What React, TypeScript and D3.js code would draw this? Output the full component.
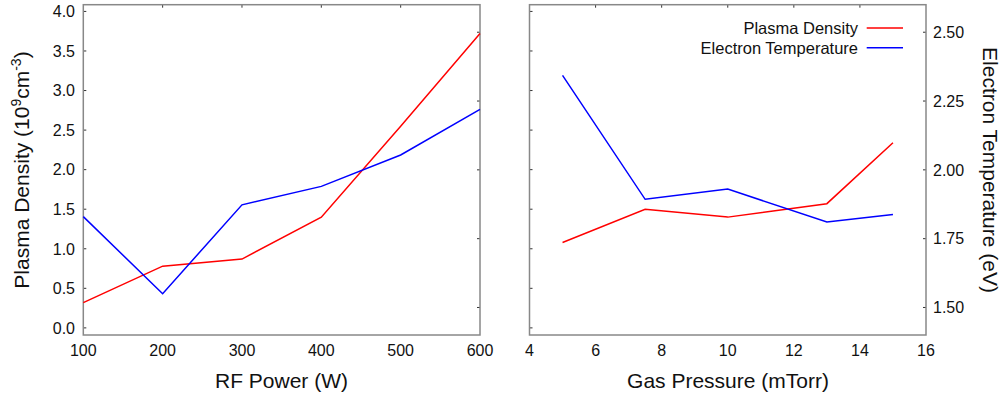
import React from "react";
import * as d3 from "d3";

const powerW = [100, 200, 300, 400, 500, 600];
const powerDensity = [0.32, 0.78, 0.87, 1.4, 2.55, 3.72];
const powerTemp = [1.83, 1.55, 1.873, 1.94, 2.054, 2.22];

const pressure = [5, 7.5, 10, 13, 15];
const pressureDensity = [1.08, 1.5, 1.4, 1.57, 2.34];
const pressureTemp = [2.343, 1.893, 1.93, 1.811, 1.838];

const densityTicks = [0, 0.5, 1, 1.5, 2, 2.5, 3, 3.5, 4];
const tempTicks = [1.5, 1.75, 2.0, 2.25, 2.5];
const powerTicks = [100, 200, 300, 400, 500, 600];
const pressureTicks = [4, 6, 8, 10, 12, 14, 16];

const legendItems = [
  { label: "Plasma Density", color: "#ff0000" },
  { label: "Electron Temperature", color: "#0000ff" },
];

const FONT = "'Liberation Sans', Arial, sans-serif";
const TOP = 4.7;
const BOTTOM = 335;
const FRAME = "#888888";
const TICK = 3;

export default function App() {
  const yDen = d3.scaleLinear().domain([-0.09, 4.085]).range([BOTTOM, TOP]);
  const yTemp = d3.scaleLinear().domain([1.4, 2.6]).range([BOTTOM, TOP]);
  const xPow = d3.scaleLinear().domain([100, 600]).range([83.3, 480]);
  const xPres = d3.scaleLinear().domain([4, 16]).range([529.5, 926]);

  const lineOf = (xs: number[], ys: number[], xs_: any, ys_: any) =>
    d3.line<number>().x((_, i) => xs_(xs[i])).y((d) => ys_(d))(ys) || "";

  const panel = (x: any, xTicks: number[], showTop: number[]) => {
    const [x0, x1] = x.range();
    return (
      <g>
        {/* left axis density ticks */}
        {densityTicks.map((t) => (
          <line key={"dl" + t} x1={x0} x2={x0 + TICK} y1={yDen(t)} y2={yDen(t)} stroke="#333" strokeWidth={1} />
        ))}
        {/* right axis temp ticks */}
        {tempTicks.map((t) => (
          <line key={"tr" + t} x1={x1 - TICK} x2={x1} y1={yTemp(t)} y2={yTemp(t)} stroke="#333" strokeWidth={1} />
        ))}
        {/* top ticks */}
        {showTop.map((t) => (
          <line key={"tt" + t} x1={x(t)} x2={x(t)} y1={TOP} y2={TOP + TICK} stroke="#333" strokeWidth={1} />
        ))}
        {/* x tick labels */}
        {xTicks.map((t) => (
          <text key={"xl" + t} x={x(t)} y={356} textAnchor="middle" fontSize={16} fontFamily={FONT} fill="#111">
            {t}
          </text>
        ))}
        <rect x={x0} y={TOP} width={x1 - x0} height={BOTTOM - TOP} fill="none" stroke={FRAME} strokeWidth={1.5} />
      </g>
    );
  };

  return (
    <svg width={1006} height={398} style={{ position: "absolute", left: 0, top: 0, background: "#fff" }}>
      {panel(xPow, powerTicks, [200, 300, 400, 500])}
      {panel(xPres, pressureTicks, [6, 8, 10, 12, 14])}

      {/* left y tick labels */}
      {densityTicks.map((t) => (
        <text key={"yl" + t} x={75} y={yDen(t)} dy="0.36em" textAnchor="end" fontSize={16} fontFamily={FONT} fill="#111">
          {t.toFixed(1)}
        </text>
      ))}
      {/* right y tick labels */}
      {tempTicks.map((t) => (
        <text key={"yr" + t} x={933} y={yTemp(t)} dy="0.36em" textAnchor="start" fontSize={16} fontFamily={FONT} fill="#111">
          {t.toFixed(2)}
        </text>
      ))}

      {/* lines */}
      <path d={lineOf(powerW, powerDensity, xPow, yDen)} fill="none" stroke="#ff0000" strokeWidth={1.5} />
      <path d={lineOf(powerW, powerTemp, xPow, yTemp)} fill="none" stroke="#0000ff" strokeWidth={1.5} />
      <path d={lineOf(pressure, pressureDensity, xPres, yDen)} fill="none" stroke="#ff0000" strokeWidth={1.5} />
      <path d={lineOf(pressure, pressureTemp, xPres, yTemp)} fill="none" stroke="#0000ff" strokeWidth={1.5} />

      {/* legend */}
      {legendItems.map((it, i) => (
        <g key={it.label}>
          <text x={858} y={28 + i * 19.7} dy="0.36em" textAnchor="end" fontSize={16.5} fontFamily={FONT} fill="#111">
            {it.label}
          </text>
          <line x1={866.7} x2={903} y1={28 + i * 19.7} y2={28 + i * 19.7} stroke={it.color} strokeWidth={1.5} />
        </g>
      ))}

      {/* axis titles */}
      <text x={281.5} y={388} textAnchor="middle" fontSize={21} fontFamily={FONT} fill="#111">
        RF Power (W)
      </text>
      <text x={728} y={388} textAnchor="middle" fontSize={21} fontFamily={FONT} fill="#111">
        Gas Pressure (mTorr)
      </text>
      <text transform="translate(29,170) rotate(-90)" textAnchor="middle" fontSize={21} fontFamily={FONT} fill="#111">
        Plasma Density (10
        <tspan fontSize={14} dy={-8}>9</tspan>
        <tspan dy={8}>cm</tspan>
        <tspan fontSize={14} dy={-8}>-3</tspan>
        <tspan dy={8}>)</tspan>
      </text>
      <text transform="translate(983,170) rotate(90)" textAnchor="middle" fontSize={21} fontFamily={FONT} fill="#111">
        Electron Temperature (eV)
      </text>
    </svg>
  );
}
